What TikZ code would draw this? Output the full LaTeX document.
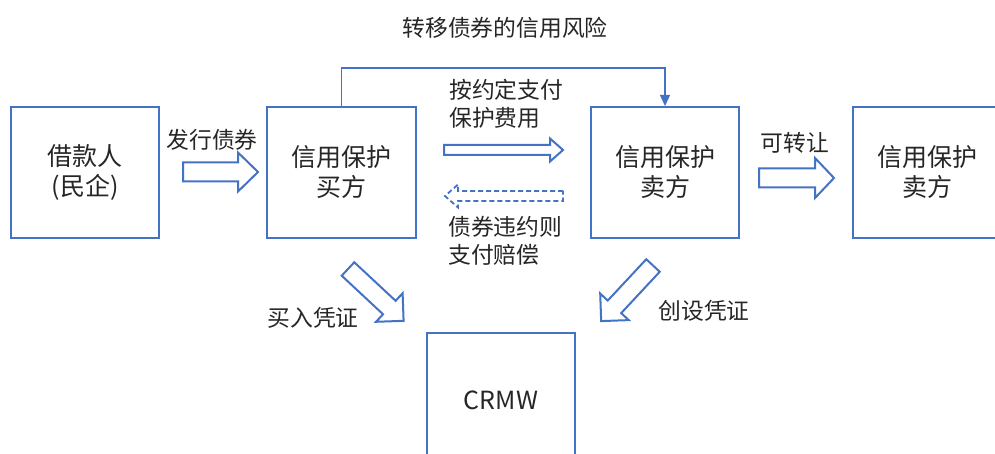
\documentclass[tikz,border=0pt]{standalone}
\usepackage{fontspec}
\setmainfont{Noto Sans CJK SC}
\usetikzlibrary{arrows.meta}
\definecolor{bblue}{HTML}{4472C4}
\definecolor{txt}{HTML}{262626}
\newcommand\blockarrow[7][]{%
  \begin{scope}[shift={#2}, rotate=#3]
    \draw[barrow,#1] (0,#5) -- ({#4-#7},#5) -- ({#4-#7},#6) -- (#4,0) -- ({#4-#7},-#6) -- ({#4-#7},-#5) -- (0,-#5) -- cycle;
  \end{scope}}
\tikzset{
  box/.style={draw=bblue, line width=2pt, minimum width=148pt, minimum height=131pt, inner sep=0pt,
              align=center, text=txt, font=\fontsize{25}{30}\selectfont},
  lbl/.style={text=txt, inner sep=0pt, font=\fontsize{22.8}{28}\selectfont},
  barrow/.style={draw=bblue, line width=2pt, line join=miter},
  link/.style={draw=bblue, line width=1.3pt, -{Triangle[width=10pt,length=11pt]}}
}
\begin{document}
\begin{tikzpicture}[x=1pt,y=-1pt]
\clip (0,0) rectangle (995,454);
\fill[white] (0,0) rectangle (995,454);

\node[lbl] (title) at (505,28) {转移债券的信用风险};

\node[box] (b1) at (85,172.5) {借款人\\(民企)};
\node[box, minimum width=149pt] (b2) at (341.5,172.5) {信用保护\\买方};
\node[box] (b3) at (665,172.5) {信用保护\\卖方};
\node[box] (b4) at (927,172.5) {信用保护\\卖方};
\node[box, minimum height=134pt] (crmw) at (501,400) {CRMW};

\draw[link] (b2.north) -- ++(0,-38) -| (b3.north);

% block arrows
\blockarrow{(183,172)}{0}{75}{9.5}{19.5}{20}
\blockarrow{(444,150)}{0}{119}{5}{11.5}{13}
\blockarrow[dash pattern=on 5pt off 3pt, line width=1.8pt]{(563,196)}{180}{118}{5}{11.5}{13}
\blockarrow{(759,178)}{0}{75}{9.5}{20}{19}
\blockarrow{(348,269)}{-43}{76}{9.2}{19.5}{19.5}
\blockarrow{(653,265.5)}{-133}{76}{9.2}{19.5}{19.5}

% labels
\node[lbl] (l1) at (212,140) {发行债券};
\node[lbl, anchor=west, align=left] (l2) at (449,103.5) {按约定支付\\保护费用};
\node[lbl, anchor=west, align=left] (l3) at (448,240.5) {债券违约则\\支付赔偿};
\node[lbl] (l4) at (795,143) {可转让};
\node[lbl] (l5) at (313,318) {买入凭证};
\node[lbl] (l6) at (704,311) {创设凭证};
\end{tikzpicture}
\end{document}
